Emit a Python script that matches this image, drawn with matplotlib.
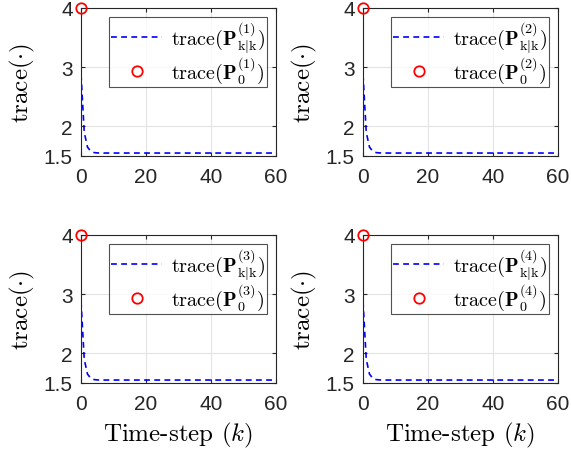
import numpy as np
import matplotlib.pyplot as plt

plt.rcParams["mathtext.fontset"] = "cm"
plt.rcParams["font.family"] = ["Liberation Sans", "DejaVu Sans"]

# ── Dados: traço da covariância por agente ───────────────────
steps = np.arange(0, 61)
trace_head = [2.88, 1.9, 1.65, 1.58, 1.558, 1.552]
trace_tail = 1.55
trace_p0 = [4.0, 4.0, 4.0, 4.0]
agents = [1, 2, 3, 4]

trace_kk = []
for a in agents:
    vals = list(trace_head) + [trace_tail] * (len(steps) - len(trace_head))
    trace_kk.append(np.array(vals))

# ── Figura 2x2 ───────────────────────────────────────────────
fig = plt.figure(figsize=(5.71, 4.56), dpi=100)
W, H = 571, 456
boxes = [(81, 9), (363, 9), (81, 236), (363, 236)]
aw, ah = 195, 148

for i, a in enumerate(agents):
    x0, y0 = boxes[i]
    ax = fig.add_axes([x0 / W, 1 - (y0 + ah) / H, aw / W, ah / H])
    ax.plot(steps, trace_kk[i], "--", color="#0000ff", lw=1.2,
            dashes=(3.5, 2.6),
            label=r"$\mathrm{trace}(\mathbf{P}^{(%d)}_{\mathrm{k|k}})$" % a)
    ax.plot([0], [trace_p0[i]], "o", mfc="none", mec="#ff0000", ms=7.5,
            mew=1.3, clip_on=False, zorder=5,
            label=r"$\mathrm{trace}(\mathbf{P}^{(%d)}_{0})$" % a)
    ax.set_xlim(0, 60)
    ax.set_ylim(1.5, 4)
    ax.set_xticks([0, 20, 40, 60])
    ax.set_yticks([1.5, 2, 3, 4])
    ax.set_yticklabels(["1.5", "2", "3", "4"])
    ax.grid(True, color="#e3e3e3", lw=0.8)
    ax.set_axisbelow(True)
    ax.tick_params(direction="in", top=True, right=True, labelsize=15,
                   colors="#262626", length=3)
    ax.tick_params(axis="x", pad=8)
    ax.tick_params(axis="y", pad=6)
    for s in ax.spines.values():
        s.set_color("#262626")
        s.set_linewidth(0.8)
    ax.set_ylabel(r"$\mathrm{trace}(\cdot)$", fontsize=18, labelpad=5)
    if i >= 2:
        ax.set_xlabel(r"Time-step $(k)$", fontsize=18, family="cmr10", labelpad=5)
    leg = ax.legend(loc="upper right", fontsize=14.5, frameon=True, fancybox=False,
                    edgecolor="#262626", borderpad=0.1, handlelength=2.5,
                    handletextpad=0.45, labelspacing=0.0, borderaxespad=0.45)
    leg.get_frame().set_linewidth(0.8)

plt.savefig("out.png", dpi=100)
